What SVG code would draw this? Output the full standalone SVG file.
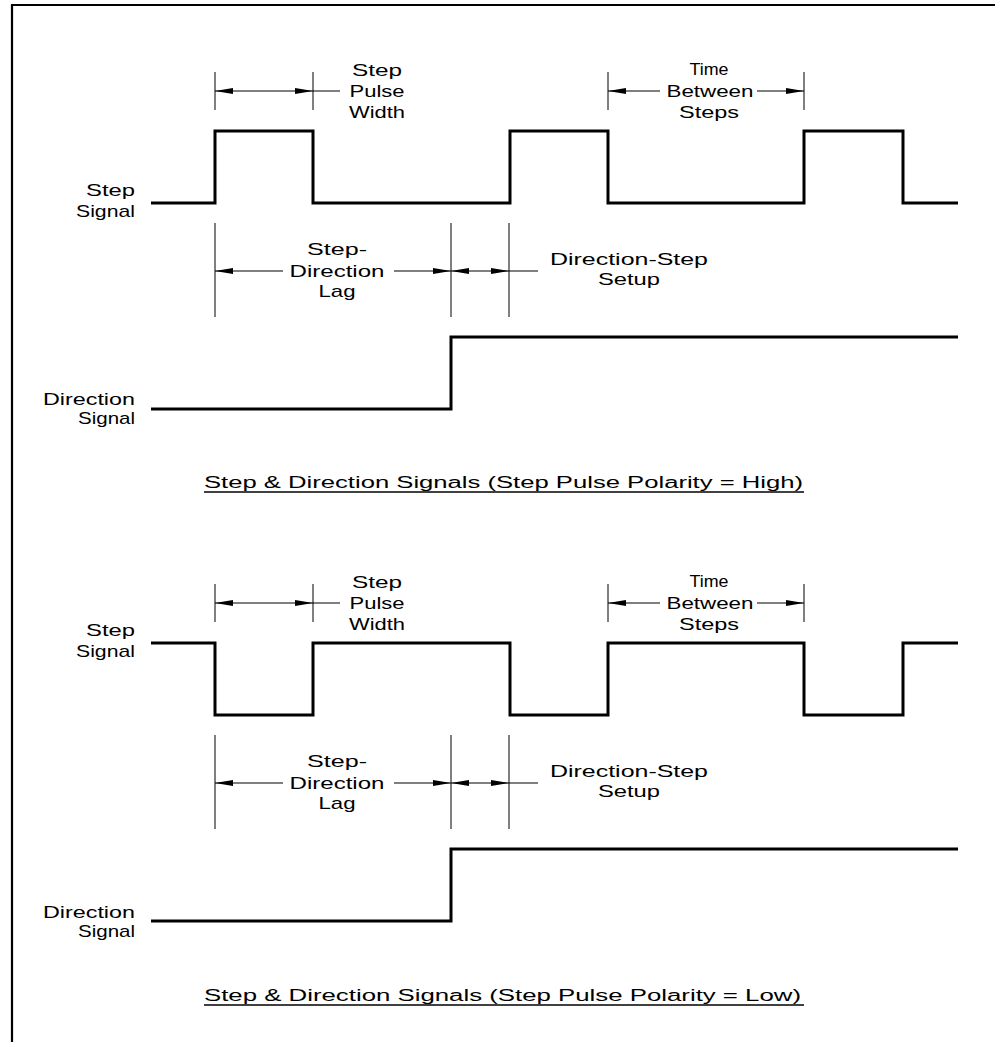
<svg xmlns="http://www.w3.org/2000/svg" xmlns:xlink="http://www.w3.org/1999/xlink" width="995" height="1042" viewBox="0 0 995 1042">
<style>
.sig{fill:none;stroke:#000;stroke-width:3;stroke-linejoin:miter;stroke-linecap:butt}
.dim{fill:none;stroke:#000;stroke-width:1.2}
.ext{fill:none;stroke:#000;stroke-width:1}
.border{fill:none;stroke:#000;stroke-width:2.2}
.t{font-family:"Liberation Sans",Arial,sans-serif;font-size:17px;fill:#000}
.tt{font-family:"Liberation Sans",Arial,sans-serif;font-size:16px;fill:#000}
.m{text-anchor:middle}
.e{text-anchor:end}
.ul{stroke:#000;stroke-width:1.5}
</style>
<defs>
<path id="ah" d="M0,0 L18,-3 L18,3 Z" fill="#000"/>
</defs>
<g id="frame">
<path class="border" d="M12,1042 V5 H995"/>
</g>

<!-- ===== Top: polarity high ===== -->
<g id="step-signal-high">
<path class="sig" d="M151,203 H215 V131 H313 V203 H510 V131 H608 V203 H804 V131 H903 V203 H958"/>
<text class="t e" x="135" y="196" textLength="49" lengthAdjust="spacingAndGlyphs">Step</text>
<text class="t e" x="135" y="217" textLength="59" lengthAdjust="spacingAndGlyphs">Signal</text>
</g>
<g id="direction-signal-high">
<path class="sig" d="M151,409 H451 V337 H958"/>
<text class="t e" x="135" y="405" textLength="92" lengthAdjust="spacingAndGlyphs">Direction</text>
<text class="t e" x="135" y="424" textLength="57" lengthAdjust="spacingAndGlyphs">Signal</text>
</g>
<g id="label-pulse-width-high">
<text class="t m" x="377" y="76" textLength="50" lengthAdjust="spacingAndGlyphs">Step</text>
<text class="t m" x="377" y="97" textLength="55" lengthAdjust="spacingAndGlyphs">Pulse</text>
<text class="t m" x="377" y="118" textLength="56" lengthAdjust="spacingAndGlyphs">Width</text>
</g>
<g id="label-time-between-high">
<text class="t m" x="709" y="75" textLength="39" lengthAdjust="spacingAndGlyphs">Time</text>
<text class="t m" x="710" y="97" textLength="87" lengthAdjust="spacingAndGlyphs">Between</text>
<text class="t m" x="709" y="118" textLength="60" lengthAdjust="spacingAndGlyphs">Steps</text>
</g>
<g id="label-lag-high">
<text class="t m" x="337" y="255" textLength="60" lengthAdjust="spacingAndGlyphs">Step-</text>
<text class="t m" x="337" y="277" textLength="95" lengthAdjust="spacingAndGlyphs">Direction</text>
<text class="t m" x="337" y="297" textLength="37" lengthAdjust="spacingAndGlyphs">Lag</text>
</g>
<g id="label-setup-high">
<text class="t m" x="629" y="265" textLength="158" lengthAdjust="spacingAndGlyphs">Direction-Step</text>
<text class="t m" x="629" y="285" textLength="62" lengthAdjust="spacingAndGlyphs">Setup</text>
</g>
<g id="title-high">
<text class="tt" x="204" y="488" textLength="599" lengthAdjust="spacingAndGlyphs">Step &amp; Direction Signals (Step Pulse Polarity = High)</text>
<line class="ul" x1="204" y1="492" x2="804" y2="492"/>
</g>

<!-- ===== Bottom: polarity low ===== -->
<g id="step-signal-low">
<path class="sig" d="M151,643 H215 V715 H313 V643 H510 V715 H608 V643 H804 V715 H903 V643 H958"/>
<text class="t e" x="135" y="636" textLength="49" lengthAdjust="spacingAndGlyphs">Step</text>
<text class="t e" x="135" y="657" textLength="59" lengthAdjust="spacingAndGlyphs">Signal</text>
</g>
<g id="direction-signal-low">
<path class="sig" d="M151,921 H451 V849 H958"/>
<text class="t e" x="135" y="918" textLength="92" lengthAdjust="spacingAndGlyphs">Direction</text>
<text class="t e" x="135" y="937" textLength="57" lengthAdjust="spacingAndGlyphs">Signal</text>
</g>
<g id="label-pulse-width-low">
<text class="t m" x="377" y="588" textLength="50" lengthAdjust="spacingAndGlyphs">Step</text>
<text class="t m" x="377" y="609" textLength="55" lengthAdjust="spacingAndGlyphs">Pulse</text>
<text class="t m" x="377" y="630" textLength="56" lengthAdjust="spacingAndGlyphs">Width</text>
</g>
<g id="label-time-between-low">
<text class="t m" x="709" y="587" textLength="39" lengthAdjust="spacingAndGlyphs">Time</text>
<text class="t m" x="710" y="609" textLength="87" lengthAdjust="spacingAndGlyphs">Between</text>
<text class="t m" x="709" y="630" textLength="60" lengthAdjust="spacingAndGlyphs">Steps</text>
</g>
<g id="label-lag-low">
<text class="t m" x="337" y="767" textLength="60" lengthAdjust="spacingAndGlyphs">Step-</text>
<text class="t m" x="337" y="789" textLength="95" lengthAdjust="spacingAndGlyphs">Direction</text>
<text class="t m" x="337" y="809" textLength="37" lengthAdjust="spacingAndGlyphs">Lag</text>
</g>
<g id="label-setup-low">
<text class="t m" x="629" y="777" textLength="158" lengthAdjust="spacingAndGlyphs">Direction-Step</text>
<text class="t m" x="629" y="797" textLength="62" lengthAdjust="spacingAndGlyphs">Setup</text>
</g>
<g id="title-low">
<text class="tt" x="204" y="1001" textLength="597" lengthAdjust="spacingAndGlyphs">Step &amp; Direction Signals (Step Pulse Polarity = Low)</text>
<line class="ul" x1="204" y1="1005" x2="804" y2="1005"/>
</g>

<!-- ===== Connectors (dimension lines) ===== -->
<g id="connectors">
<!-- top -->
<path class="ext" d="M215,72 V110 M313,72 V110 M608,72 V110 M804,72 V110 M215,223 V317 M451,223 V317 M509,223 V317"/>
<path class="dim" d="M215,91 H340 M608,91 H660 M757,91 H804 M215,271 H283 M394,271 H538"/>
<use xlink:href="#ah" transform="translate(215,91)"/>
<use xlink:href="#ah" transform="translate(313,91) scale(-1,1)"/>
<use xlink:href="#ah" transform="translate(608,91)"/>
<use xlink:href="#ah" transform="translate(804,91) scale(-1,1)"/>
<use xlink:href="#ah" transform="translate(215,271)"/>
<use xlink:href="#ah" transform="translate(451,271) scale(-1,1)"/>
<use xlink:href="#ah" transform="translate(451,271)"/>
<use xlink:href="#ah" transform="translate(509,271) scale(-1,1)"/>
<!-- bottom -->
<path class="ext" d="M215,584 V622 M313,584 V622 M608,584 V622 M804,584 V622 M215,735 V829 M451,735 V829 M509,735 V829"/>
<path class="dim" d="M215,603 H340 M608,603 H660 M757,603 H804 M215,783 H283 M394,783 H538"/>
<use xlink:href="#ah" transform="translate(215,603)"/>
<use xlink:href="#ah" transform="translate(313,603) scale(-1,1)"/>
<use xlink:href="#ah" transform="translate(608,603)"/>
<use xlink:href="#ah" transform="translate(804,603) scale(-1,1)"/>
<use xlink:href="#ah" transform="translate(215,783)"/>
<use xlink:href="#ah" transform="translate(451,783) scale(-1,1)"/>
<use xlink:href="#ah" transform="translate(451,783)"/>
<use xlink:href="#ah" transform="translate(509,783) scale(-1,1)"/>
</g>
</svg>
